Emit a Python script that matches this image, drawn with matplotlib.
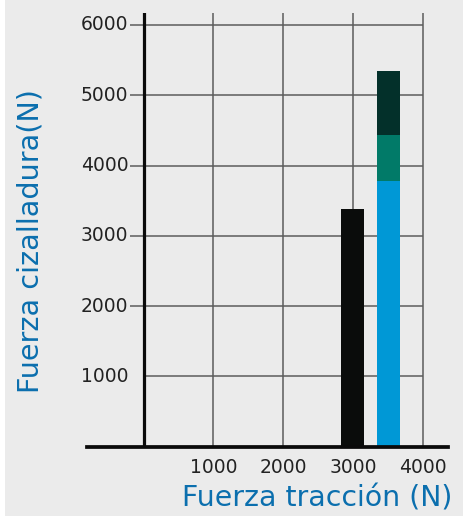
#Shear force vs tensile force bar chart

import matplotlib
matplotlib.use('Agg')
import matplotlib.pyplot as plt
from matplotlib.patches import Rectangle

#Data

x_single = [2990]                 #traction force of the single bar (N)
y_single = [3380]                 #shear force of the single bar (N)

x_stack = [3500]                  #traction force of the stacked bar (N)
stack_blue = [3780]               #lower segment
stack_teal = [660]                #middle segment
stack_dark = [910]                #upper segment

x_ticks = [1000, 2000, 3000, 4000]
y_ticks = [1000, 2000, 3000, 4000, 5000, 6000]

#Colours

bg = '#ebebeb'
grid_col = '#5c5c5c'
label_col = '#0b6fae'
tick_col = '#222222'

fig = plt.figure(figsize=(4.64, 5.16), dpi=100, facecolor=bg)
fig.add_artist(Rectangle((0, 0), 5/464, 1, transform=fig.transFigure,
                         facecolor='white', edgecolor='none', zorder=-10))

ax = fig.add_axes([87.3/464, 1 - 446.7/516, 360.5/464, 433.7/516])
ax.set_facecolor('none')
ax.set_xlim(-804, 4350)
ax.set_ylim(0, 6170)

#grid
for xv in x_ticks:
    ax.axvline(xv, color=grid_col, lw=1.1, zorder=1)
for yv in y_ticks:
    x0 = 0 if yv == 1000 else -200
    ax.hlines(yv, x0, 4000, color=grid_col, lw=1.1, zorder=1)

#axes lines
ax.axvline(0, color='#0a0a0a', lw=2.3, zorder=3)
for s in ['left', 'right', 'top']:
    ax.spines[s].set_visible(False)
ax.spines['bottom'].set_color('#0a0a0a')
ax.spines['bottom'].set_linewidth(2.7)
ax.spines['bottom'].set_zorder(4)

#bars
w = 330
ax.bar(x_single, y_single, width=w, color='#0a0c0b', zorder=2)
ax.bar(x_stack, stack_blue, width=w, color='#0098d6', zorder=2)
ax.bar(x_stack, stack_teal, width=w, bottom=stack_blue, color='#017a68', zorder=2)
bot2 = [a + b for a, b in zip(stack_blue, stack_teal)]
ax.bar(x_stack, stack_dark, width=w, bottom=bot2, color='#03302a', zorder=2)

#ticks
ax.set_xticks(x_ticks)
ax.set_xticklabels([str(v) for v in x_ticks])
ax.tick_params(axis='x', length=0, pad=8, labelsize=13.5, labelcolor=tick_col)
ax.set_yticks([])
for yv in y_ticks:
    ax.text(-215, yv, str(yv), ha='right', va='center', fontsize=13.5, color=tick_col)

#axis titles
fig.text(317/464, 1 - 507/516, 'Fuerza tracción (N)', ha='center', va='baseline',
         fontsize=20.4, color=label_col)
fig.text(31/464, 1 - 241/516, 'Fuerza cizalladura(N)', ha='center', va='center',
         rotation=90, fontsize=20.6, color=label_col)

plt.savefig('out.png', dpi=100, facecolor=fig.get_facecolor())
